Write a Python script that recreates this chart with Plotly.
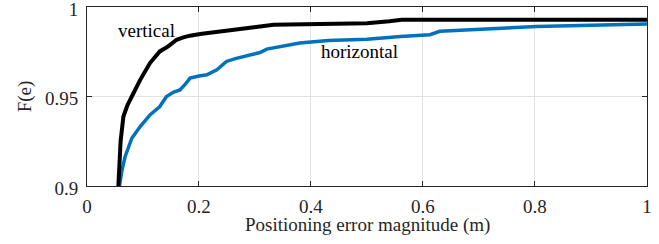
import plotly.graph_objects as go

vert_x = [0.056, 0.060, 0.065, 0.072, 0.080, 0.095, 0.1125, 0.130, 0.145, 0.160, 0.172, 0.184,
          0.202, 0.225, 0.249, 0.280, 0.309, 0.333, 0.380, 0.434, 0.500, 0.540, 0.562, 0.700, 0.850, 1.0]
vert_y = [0.900, 0.925, 0.9388, 0.945, 0.950, 0.9593, 0.9687, 0.9752, 0.978, 0.9817, 0.983, 0.984,
          0.9849, 0.9857, 0.9869, 0.988, 0.9891, 0.9901, 0.9902, 0.9905, 0.9910, 0.9920, 0.9929, 0.9929, 0.9929, 0.9929]

horz_x = [0.058, 0.062, 0.068, 0.080, 0.095, 0.1125, 0.130, 0.142, 0.155, 0.166, 0.176, 0.184,
          0.200, 0.214, 0.232, 0.249, 0.265, 0.279, 0.309, 0.321, 0.350, 0.380, 0.431, 0.500,
          0.560, 0.6125, 0.630, 0.690, 0.7316, 0.803, 0.900, 1.0]
horz_y = [0.900, 0.908, 0.9164, 0.9267, 0.9332, 0.9397, 0.9444, 0.950, 0.9525, 0.9537, 0.957, 0.9603,
          0.9615, 0.9621, 0.9649, 0.9696, 0.9712, 0.9724, 0.9746, 0.9765, 0.978, 0.9799, 0.9813, 0.982,
          0.9835, 0.9845, 0.9864, 0.9874, 0.9882, 0.9891, 0.9898, 0.9905]

x_ticks = [0, 0.2, 0.4, 0.6, 0.8, 1]
x_tick_labels = ["0", "0.2", "0.4", "0.6", "0.8", "1"]
y_ticks = [0.9, 0.95, 1]
y_tick_labels = ["0.9", "0.95", "1"]

x_title = "Positioning error magnitude (m)"
y_title = "F(e)"

font = "'Liberation Serif', 'DejaVu Serif', serif"
fsize = 19
tcol = "#262626"

fig = go.Figure()
fig.add_trace(go.Scatter(x=horz_x, y=horz_y, mode="lines",
                         line=dict(color="#0072BD", width=3.5), showlegend=False))
fig.add_trace(go.Scatter(x=vert_x, y=vert_y, mode="lines",
                         line=dict(color="#000000", width=4), showlegend=False))

fig.add_annotation(x=0.107, y=0.9867, text="vertical", showarrow=False,
                   font=dict(family=font, size=fsize, color="#000"))
fig.add_annotation(x=0.4875, y=0.975, text="horizontal", showarrow=False,
                   font=dict(family=font, size=fsize, color="#000"))
# x-axis title placed just below the tick labels
fig.add_annotation(xref="paper", yref="paper", x=0.5, y=-0.148, yanchor="top",
                   text=x_title, showarrow=False,
                   font=dict(family=font, size=fsize, color=tcol))

axis_common = dict(showline=True, linecolor=tcol, linewidth=1, mirror="ticks",
                   ticks="inside", ticklen=5, tickcolor=tcol, automargin=False,
                   ticklabeloverflow="allow",
                   showgrid=True, gridcolor="#e3e3e3", gridwidth=1, zeroline=False,
                   tickfont=dict(family=font, size=fsize, color=tcol))

fig.update_xaxes(range=[0, 1.0001], tickvals=x_ticks, ticktext=x_tick_labels,
                 ticklabelstandoff=3, **axis_common)
fig.update_yaxes(range=[0.9, 1.00001], tickvals=y_ticks, ticktext=y_tick_labels,
                 ticklabelstandoff=4, ticklabelshift=2,
                 title=dict(text=y_title, standoff=8,
                            font=dict(family=font, size=fsize, color=tcol)),
                 **axis_common)

fig.update_layout(width=659, height=244, margin=dict(l=87, r=12, t=7, b=58),
                  plot_bgcolor="white", paper_bgcolor="white",
                  font=dict(family=font))

fig.write_html("out.html", config={"displayModeBar": False},
               post_script="document.body.style.margin='0px';")
